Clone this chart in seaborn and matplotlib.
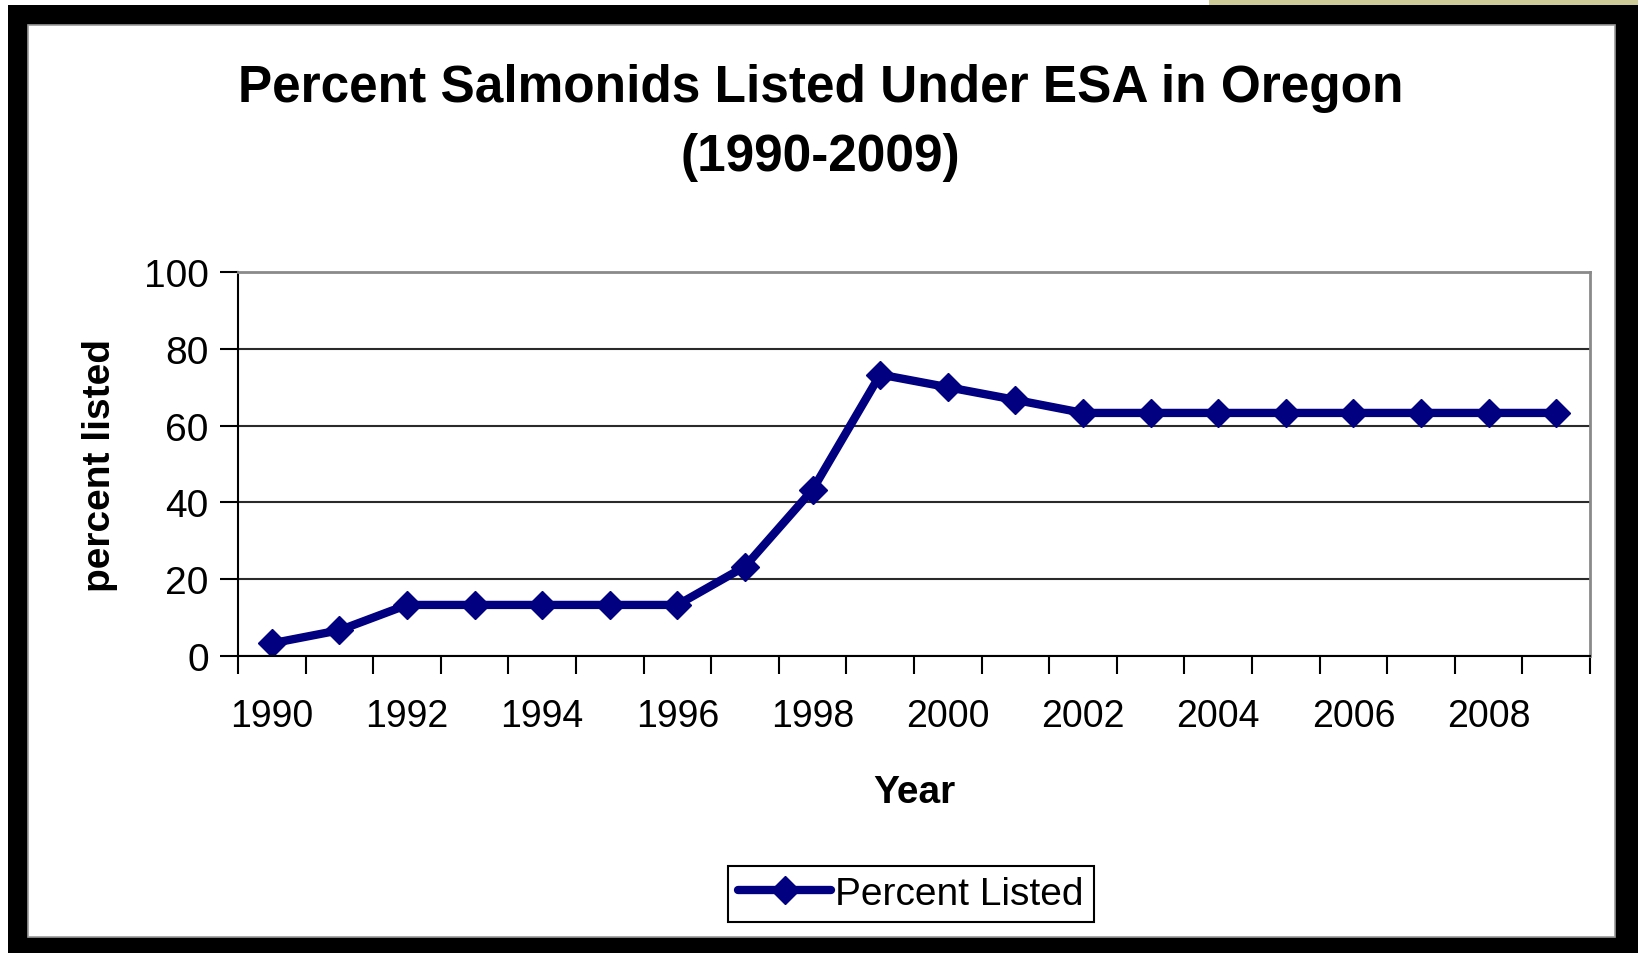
import numpy as np
import pandas as pd
import matplotlib
matplotlib.use("Agg")
import matplotlib.pyplot as plt
import matplotlib.patches as mpatches
from matplotlib.ticker import FixedLocator, NullFormatter
import seaborn as sns

years = list(range(1990, 2010))
pct_listed = [3.3, 6.7, 13.3, 13.3, 13.3, 13.3, 13.3, 23.3, 43.3, 73.3,
              70.0, 66.7, 63.3, 63.3, 63.3, 63.3, 63.3, 63.3, 63.3, 63.3]
year_labels = [str(y) if y % 2 == 0 else "" for y in years]

NAVY = "#000080"

sns.set_theme(style="white")
plt.rcParams["font.family"] = ["Liberation Sans", "DejaVu Sans"]
plt.rcParams["text.color"] = "black"
plt.rcParams["axes.labelcolor"] = "black"

df = pd.DataFrame({"Year": years, "percent listed": pct_listed})

fig = plt.figure(figsize=(16.38, 9.54), dpi=100)
fig.patch.set_facecolor("black")

# slide frame: white/khaki strip on top, black border, white panel inside
frame = [
    mpatches.Rectangle((0, 948 / 954), 1209 / 1638, 6 / 954, color="white", lw=0),
    mpatches.Rectangle((1209 / 1638, 948 / 954), 429 / 1638, 6 / 954, color="#cdcb98", lw=0),
    mpatches.Rectangle((0, 0), 8 / 1638, 948 / 954, color="white", lw=0),
    mpatches.Rectangle((28 / 1638, 16 / 954), 1587 / 1638, 912 / 954,
                       facecolor="white", edgecolor="#9a9a9a", lw=1.2),
]
for p in frame:
    p.set_transform(fig.transFigure)
    p.set_zorder(-5)
    fig.add_artist(p)

ax = fig.add_axes([238 / 1638, 297 / 954, 1352 / 1638, 384 / 954])
ax.set_facecolor("white")

sns.lineplot(data=df, x="Year", y="percent listed", ax=ax, color=NAVY,
             linewidth=6, marker="D", markersize=14, markeredgecolor=NAVY,
             markeredgewidth=1, label="Percent Listed", legend=False)

ax.set_xlim(1989.5, 2009.5)
ax.set_ylim(0, 100)
ax.set_yticks([0, 20, 40, 60, 80, 100])
ax.yaxis.grid(True, color="#2a2a2a", linewidth=1.5)
ax.set_axisbelow(True)

# category axis: labels at centers, tick marks between categories
ax.set_xticks(years)
ax.set_xticklabels(year_labels)
ax.tick_params(axis="x", which="major", length=0, pad=30, labelsize=27, colors="black")
ax.xaxis.set_minor_locator(FixedLocator(np.arange(1989.5, 2010.5, 1)))
ax.xaxis.set_minor_formatter(NullFormatter())
ax.tick_params(axis="x", which="minor", direction="out", length=13, width=1.5,
               color="black", bottom=True)
ax.tick_params(axis="y", direction="out", length=13, width=1.5, labelsize=28,
               left=True, colors="black", pad=8)

for side in ("left", "bottom"):
    ax.spines[side].set_color("black")
    ax.spines[side].set_linewidth(1.5)
for side in ("top", "right"):
    ax.spines[side].set_color("#8a8a8a")
    ax.spines[side].set_linewidth(2)

ax.set_xlabel("Year", fontsize=28, fontweight="bold")
ax.set_ylabel("percent listed", fontsize=28, fontweight="bold")
ax.xaxis.set_label_coords(0.5, -0.308)
ax.yaxis.set_label_coords(-0.089, 0.5)

fig.text(0.501, 0.871, "Percent Salmonids Listed Under ESA in Oregon\n(1990-2009)",
         ha="center", va="center", fontsize=37, fontweight="bold",
         linespacing=1.54)

handles, labels = ax.get_legend_handles_labels()
leg = fig.legend(handles, labels, loc="center", bbox_to_anchor=(911 / 1638, 1 - 895 / 954),
                 bbox_transform=fig.transFigure, fontsize=28, handlelength=2.4,
                 handletextpad=0.1, fancybox=False, framealpha=1,
                 edgecolor="black", borderpad=0.25, borderaxespad=0)
leg.get_frame().set_linewidth(1.5)

fig.savefig("out.png", dpi=100, facecolor=fig.get_facecolor())
